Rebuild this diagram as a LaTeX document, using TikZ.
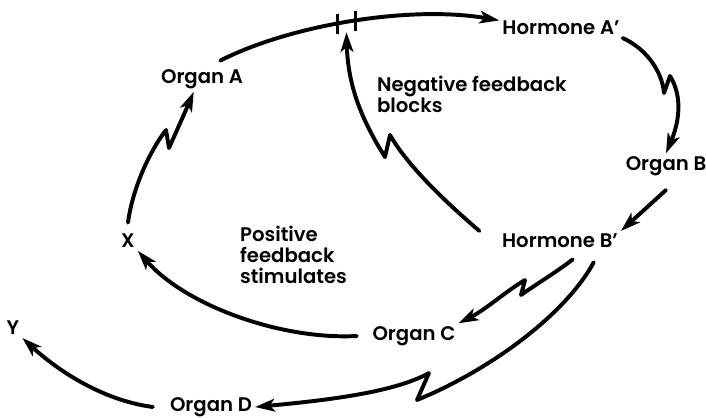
\documentclass[tikz,border=0pt]{standalone}
\usepackage{fontspec}
\setmainfont{Poppins}[UprightFont=*-SemiBold]
\usetikzlibrary{arrows.meta}
\tikzset{
  organ/.style={font=\fontsize{14}{16}\selectfont, inner sep=2pt},
  note/.style={font=\fontsize{14}{15}\selectfont, align=left, inner sep=2pt},
  flow/.style={line width=2.8pt, line cap=round, line join=round,
               -{Stealth[length=14pt, width=9pt, inset=3.5pt]}},
  tick/.style={line width=1.6pt}
}

\begin{document}
\begin{tikzpicture}[x=0.025cm, y=-0.025cm]
    \useasboundingbox (0,0) rectangle (706,417);
    % the eight stations of the loop
    \node[organ] (oa) at (202,79) {Organ A};
    \node[organ] (ha) at (561,28) {Hormone A’};
    \node[organ] (ob) at (666,166) {Organ B};
    \node[organ] (hb) at (560,241) {Hormone B’};
    \node[organ] (oc) at (414,336) {Organ C};
    \node[organ] (xx) at (128,241) {X};
    \node[organ] (od) at (211,407) {Organ D};
    \node[organ] (yy) at (13,328) {Y};
    % side notes
    \node[note, anchor=west] (neg) at (374,94) {Negative feedback\\blocks};
    \node[note, anchor=west] (pos) at (237,255) {Positive\\feedback\\stimulates};
    % Organ A -> Hormone A', with the block marks
    \draw[flow] ([shift={(13pt,4pt)}]oa.north) .. controls (290,25) and (410,5) ..
        coordinate[pos=0.45] (t1) coordinate[pos=0.48] (blk) coordinate[pos=0.51] (t2) (ha.173);
    \draw[tick] ([yshift=7pt]t1) -- ([yshift=-7pt]t1);
    \draw[tick] ([yshift=7pt]t2) -- ([yshift=-7pt]t2);
    % Hormone A' -> Organ B -> Hormone B'
    \draw[flow] (ha.south east) .. controls (645,48) and (662,70) .. (664,93) -- (670,76)
        .. controls (682,95) and (680,120) .. (ob.north);
    \draw[flow] ([yshift=-8pt]ob.south) -- (hb.north east);
    % negative feedback
    \draw[flow] ([xshift=-14pt]hb.north west) .. controls (455,210) and (410,170) .. (390,135)
        -- (385,157) .. controls (365,125) and (348,90) .. ([yshift=-7pt]blk);
    % Hormone B' -> Organ C -> X -> Organ A
    \draw[flow] ([shift={(9pt,-6pt)}]hb.south) .. controls (555,273) and (535,285) .. (521,295)
        -- (525,280) .. controls (505,292) and (485,310) .. (oc.north east);
    \draw[flow] ([xshift=-9pt]oc.west) .. controls (280,340) and (185,305) .. (xx.-45);
    \draw[flow] ([yshift=6pt]xx.north) .. controls (133,185) and (152,148) .. (166,130)
        -- (169,148) .. controls (177,130) and (186,110) .. (oa.237);
    % Hormone B' -> Organ D -> Y
    \draw[flow] ([shift={(24pt,-8pt)}]hb.south) .. controls (565,315) and (490,370) .. (417,400)
        -- (429,373) .. controls (395,392) and (330,400) .. (od.east);
    \draw[flow] ([xshift=-10pt]od.west) .. controls (100,400) and (55,368) .. (yy.south east);
\end{tikzpicture}
\end{document}
